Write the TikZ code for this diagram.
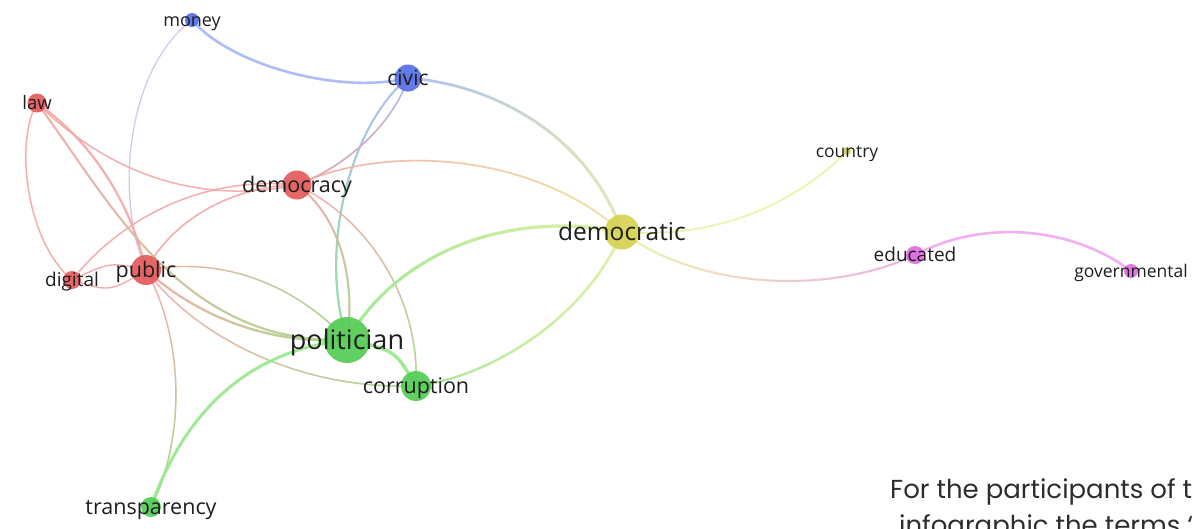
\documentclass[tikz,border=0pt]{standalone}
\usepackage{fontspec}
\setmainfont{Open Sans}
\newfontfamily\capfont{Poppins}
\usetikzlibrary{backgrounds,fadings}
\definecolor{nred}{RGB}{229,92,92}
\definecolor{nblue}{RGB}{88,112,230}
\definecolor{ngreen}{RGB}{86,204,86}
\definecolor{nyellow}{RGB}{214,210,84}
\definecolor{npink}{RGB}{222,108,222}
\definecolor{eR}{RGB}{245,165,165}
\definecolor{eB}{RGB}{163,183,245}
\definecolor{eG}{RGB}{150,232,140}
\definecolor{eY}{RGB}{236,242,165}
\definecolor{eP}{RGB}{240,168,240}
\definecolor{eL}{RGB}{210,195,230}
\definecolor{lblc}{RGB}{30,30,30}
\definecolor{capc}{RGB}{45,45,45}
\tikzfading[name=toE, left color=transparent!100, right color=transparent!0]
\tikzfading[name=toS, top color=transparent!100, bottom color=transparent!0]
\tikzfading[name=toElate, left color=transparent!100, middle color=transparent!85, right color=transparent!0]
\tikzset{
  kwnode/.style={circle, inner sep=0pt, opacity=0.93},
  kwlabel/.style={inner sep=0pt, text=lblc},
  edge/.style={line cap=round, opacity=0.9},
  captxt/.style={inner sep=0pt, text=capc, font=\capfont\fontsize{26}{30}\selectfont}
}
\newcommand\kw[7]{%
  \node[kwnode, fill=#5, minimum size=#4pt] (#1) at (#2,#3) {};
  \node[kwlabel, font=\fontsize{#6}{#6}\selectfont, anchor=base] (#1L) at (#2,{#3+0.36*#6}) {#7};}
\newcommand\gedge[5]{%
  \draw[edge, line width=#4pt, draw=#1] #5;
  \draw[edge, line width=#4pt, draw=#2, path fading=#3] #5;}
\begin{document}
\begin{tikzpicture}[x=1pt,y=-1pt]
\useasboundingbox (0,0) rectangle (1193,528);
\clip (0,0) rectangle (1193,528);
% nodes
\kw{money}{192}{20}{14}{nblue}{18}{money}
\kw{civic}{408}{78}{27}{nblue}{21}{civic}
\kw{law}{37}{103}{19}{nred}{18.5}{law}
\kw{democracy}{297}{185}{29}{nred}{21.5}{democracy}
\kw{country}{847}{151}{8}{nyellow}{17.5}{country}
\kw{democratic}{622}{232}{35}{nyellow}{24.5}{democratic}
\kw{public}{146}{270}{30}{nred}{21.5}{public}
\kw{digital}{72}{280}{18}{nred}{19}{digital}
\kw{educated}{915}{255}{18}{npink}{19}{educated}
\kw{governmental}{1131}{271}{14}{npink}{17.5}{governmental}
\kw{politician}{347}{340}{46}{ngreen}{27}{politician}
\kw{corruption}{416}{386}{30}{ngreen}{21.5}{corruption}
\kw{transparency}{151}{507}{20}{ngreen}{21.5}{transparency}
% caption text
\node[captxt, anchor=base west] (cap1) at (890,498) {For the participants of t};
\node[captxt, anchor=base west] (cap2) at (899,534) {infographic the terms ‘};
% edges
\begin{pgfonlayer}{background}
\fill[white] (0,0) rectangle (1193,528);
\draw[edge, line width=2.6pt, draw=eB] (money.center) .. controls (230,65) and (340,95) .. (civic.center);
\draw[edge, line width=1.3pt, draw=eL] (money.center) .. controls (125,70) and (115,200) .. (public.center);
\gedge{eB}{eY}{toE}{2.6}{(civic.center) .. controls (500,85) and (590,140) .. (democratic.center)}
\gedge{eB}{eG}{toS}{2}{(civic.center) .. controls (350,125) and (318,250) .. (politician.center)}
\gedge{eB}{eR}{toS}{1.6}{(civic.center) .. controls (395,120) and (350,165) .. (democracy.center)}
\draw[edge, line width=2.2pt, draw=eR] (law.center) .. controls (90,140) and (130,200) .. (public.center);
\gedge{eR}{eG}{toElate}{2}{(law.center) .. controls (110,200) and (180,345) .. (politician.center)}
\draw[edge, line width=1.5pt, draw=eR] (law.center) .. controls (110,175) and (200,205) .. (democracy.center);
\draw[edge, line width=1.5pt, draw=eR] (law.center) .. controls (15,140) and (25,240) .. (digital.center);
\draw[edge, line width=1.5pt, draw=eR] (digital.center) .. controls (120,220) and (200,175) .. (democracy.center);
\draw[edge, line width=1.4pt, draw=eR] (digital.center) .. controls (110,262) .. (public.center);
\draw[edge, line width=1.4pt, draw=eR] (digital.center) .. controls (110,292) .. (public.center);
\draw[edge, line width=1.6pt, draw=eR] (public.center) .. controls (175,215) and (240,185) .. (democracy.center);
\gedge{eR}{eY}{toE}{1.6}{(democracy.center) .. controls (380,145) and (530,150) .. (democratic.center)}
\gedge{eR}{eG}{toS}{2}{(democracy.center) .. controls (345,220) and (355,290) .. (politician.center)}
\gedge{eR}{eG}{toS}{1.4}{(democracy.center) .. controls (370,220) and (420,300) .. (corruption.center)}
\gedge{eR}{eG}{toE}{1.4}{(public.center) .. controls (230,255) and (300,290) .. (politician.center)}
\gedge{eR}{eG}{toE}{2.2}{(public.center) .. controls (190,310) and (260,345) .. (politician.center)}
\gedge{eR}{eG}{toE}{1.4}{(public.center) .. controls (190,330) and (290,390) .. (corruption.center)}
\gedge{eR}{eG}{toS}{1.4}{(public.center) .. controls (185,340) and (185,440) .. (transparency.center)}
\draw[edge, line width=3pt, draw=eG] (politician.center) .. controls (250,350) and (185,410) .. (transparency.center);
\gedge{eG}{eY}{toE}{3}{(politician.center) .. controls (400,250) and (510,210) .. (democratic.center)}
\draw[edge, line width=3.5pt, draw=eG] (politician.center) .. controls (395,350) .. (corruption.center);
\gedge{eG}{eY}{toE}{2.2}{(corruption.center) .. controls (500,375) and (590,310) .. (democratic.center)}
\draw[edge, line width=1.8pt, draw=eY] (democratic.center) .. controls (720,240) and (800,200) .. (country.center);
\gedge{eY}{eP}{toE}{2}{(democratic.center) .. controls (700,290) and (830,295) .. (educated.center)}
\draw[edge, line width=2.6pt, draw=eP] (educated.center) .. controls (980,220) and (1070,225) .. (governmental.center);
\end{pgfonlayer}
\end{tikzpicture}
\end{document}
